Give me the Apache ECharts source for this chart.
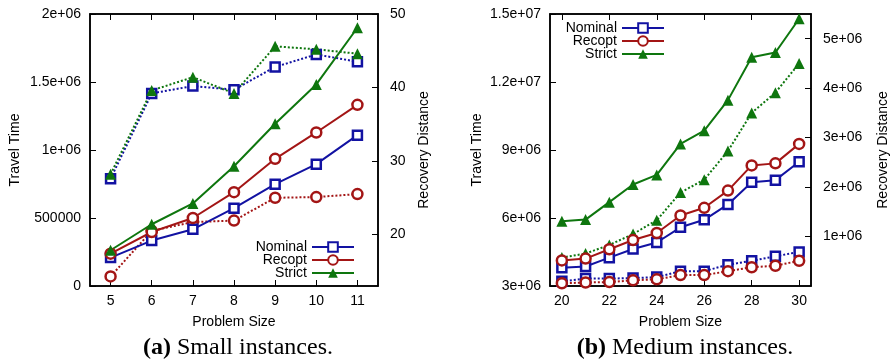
<!DOCTYPE html>
<html>
<head>
<meta charset="utf-8">
<script src="https://cdn.jsdelivr.net/npm/echarts@6/dist/echarts.min.js"></script>
<style>
  html, body { margin: 0; padding: 0; background: #fff; }
  #chart { width: 892px; height: 360px; }
</style>
</head>
<body>
<div id="chart"></div>
<script>
// panel (a) small instances
const sizeA = [5, 6, 7, 8, 9, 10, 11];
const travelNominalA = [209000, 334000, 417000, 572000, 749000, 896000, 1109000];
const travelRecoptA = [238000, 397000, 500000, 690000, 935000, 1129000, 1332000];
const travelStrictA = [263000, 454000, 607000, 881000, 1193000, 1482000, 1899000];
const recovNominalA = [27.6, 39.2, 40.2, 39.7, 42.8, 44.5, 43.5];
const recovRecoptA = [14.3, 20.5, 21.7, 21.9, 25.0, 25.1, 25.5];
const recovStrictA = [28.2, 39.6, 41.4, 39.2, 45.6, 45.2, 44.6];

// panel (b) medium instances
const sizeB = [20, 21, 22, 23, 24, 25, 26, 27, 28, 29, 30];
const travelNominalB = [3.81e6, 3.86e6, 4.25e6, 4.63e6, 4.92e6, 5.59e6, 5.92e6, 6.6e6, 7.58e6, 7.67e6, 8.48e6];
const travelRecoptB = [4.13e6, 4.21e6, 4.62e6, 5.03e6, 5.34e6, 6.11e6, 6.45e6, 7.21e6, 8.32e6, 8.41e6, 9.27e6];
const travelStrictB = [5.86e6, 5.93e6, 6.7e6, 7.48e6, 7.9e6, 9.27e6, 9.85e6, 11.2e6, 13.09e6, 13.3e6, 14.79e6];
const recovNominalB = [0.095e6, 0.15e6, 0.15e6, 0.16e6, 0.18e6, 0.30e6, 0.30e6, 0.43e6, 0.51e6, 0.60e6, 0.69e6];
const recovRecoptB = [0.055e6, 0.07e6, 0.08e6, 0.115e6, 0.135e6, 0.22e6, 0.22e6, 0.30e6, 0.38e6, 0.41e6, 0.51e6];
const recovStrictB = [0.575e6, 0.656e6, 0.83e6, 1.05e6, 1.33e6, 1.89e6, 2.15e6, 2.73e6, 3.5e6, 3.91e6, 4.5e6];

// tick labels
const xTicksA = [5, 6, 7, 8, 9, 10, 11];
const xTicksB = [20, 22, 24, 26, 28, 30];
const travelTicksA = { 0: "0", 500000: "500000", 1000000: "1e+06", 1500000: "1.5e+06", 2000000: "2e+06" };
const recovTicksA = [20, 30, 40, 50];
const travelTicksB = { 3000000: "3e+06", 6000000: "6e+06", 9000000: "9e+06", 12000000: "1.2e+07", 15000000: "1.5e+07" };
const recovTicksB = [1e6, 2e6, 3e6, 4e6, 5e6];
const recovLabelsB = ["1e+06", "2e+06", "3e+06", "4e+06", "5e+06"];

const BLUE = "#1212a2";
const RED = "#a31515";
const GREEN = "#0e760e";
const FONT = "Liberation Sans, Arial, sans-serif";

const marks = {
  Nominal: { color: BLUE, symbol: "rect", size: 9, fill: "#fff" },
  Recopt: { color: RED, symbol: "circle", size: 10, fill: "#fff" },
  Strict: { color: GREEN, symbol: "triangle", size: 11, fill: GREEN },
};

function pairs(xs, ys) {
  return xs.map((x, i) => [x, ys[i]]);
}

function line(name, seriesName, xs, ys, xi, yi, dotted) {
  const m = marks[name];
  return {
    name: seriesName,
    type: "line",
    xAxisIndex: xi,
    yAxisIndex: yi,
    data: pairs(xs, ys),
    symbol: m.symbol,
    symbolSize: m.size,
    showAllSymbol: true,
    animation: false,
    z: dotted ? 2 : 3,
    lineStyle: { color: m.color, width: 2, type: dotted ? [2, 2] : "solid" },
    itemStyle: { color: m.fill, borderColor: m.color, borderWidth: m.symbol === "triangle" ? 0 : 2.5 },
  };
}

const axisLabelStyle = { color: "#000", fontSize: 14, fontFamily: FONT };
const nameStyle = { color: "#000", fontSize: 14, fontFamily: FONT };

function xAxisBottom(gi, min, max, ticks) {
  return {
    type: "value", gridIndex: gi, min: min, max: max, position: "bottom",
    name: "Problem Size", nameLocation: "middle", nameGap: 29, nameTextStyle: nameStyle,
    axisLine: { lineStyle: { color: "#000", width: 1.5 } },
    axisTick: { inside: true, length: 6, customValues: ticks, lineStyle: { color: "#000" } },
    axisLabel: Object.assign({ margin: 8, customValues: ticks }, axisLabelStyle),
    splitLine: { show: false },
  };
}

function xAxisTop(gi, min, max, ticks) {
  return {
    type: "value", gridIndex: gi, min: min, max: max, position: "top",
    axisLine: { lineStyle: { color: "#000", width: 1.5 } },
    axisTick: { inside: true, length: 6, customValues: ticks, lineStyle: { color: "#000" } },
    axisLabel: { show: false },
    splitLine: { show: false },
  };
}

function legendAt(right, top) {
  return {
    data: ["Nominal", "Recopt", "Strict"],
    orient: "vertical", align: "right", right: right, top: top,
    itemWidth: 42, itemHeight: 12, itemGap: -1,
    textStyle: { color: "#000", fontSize: 14, fontFamily: FONT },
    selectedMode: false,
  };
}

function caption(text, x) {
  return {
    text: text,
    left: x, top: 331, textAlign: "center",
    textStyle: { fontFamily: "Liberation Serif, serif", fontSize: 24, fontWeight: "normal", color: "#000",
      rich: { b: { fontFamily: "Liberation Serif, serif", fontSize: 24, fontWeight: "bold", color: "#000" } } },
  };
}

const chart = echarts.init(document.getElementById("chart"));

chart.setOption({
  backgroundColor: "#fff",
  animation: false,
  title: [
    caption("{b|(a)} Small instances.", 233),
    caption("{b|(b)} Medium instances.", 680),
  ],
  grid: [
    { left: 90, width: 288, top: 14, height: 272, show: true, borderColor: "#000", borderWidth: 1.5 },
    { left: 550, width: 261, top: 14, height: 272, show: true, borderColor: "#000", borderWidth: 1.5 },
  ],
  legend: [legendAt(532, 235), legendAt(222, 16)],
  xAxis: [
    xAxisBottom(0, 4.5, 11.5, xTicksA),
    xAxisTop(0, 4.5, 11.5, xTicksA),
    xAxisBottom(1, 19.5, 30.5, xTicksB),
    xAxisTop(1, 19.5, 30.5, xTicksB),
  ],
  yAxis: [
    {
      type: "value", gridIndex: 0, min: 0, max: 2000000, interval: 500000, position: "left",
      name: "Travel Time", nameLocation: "middle", nameGap: 68, nameTextStyle: nameStyle,
      axisLine: { show: true, lineStyle: { color: "#000", width: 1.5 } },
      axisTick: { show: true, inside: true, length: 6, lineStyle: { color: "#000" } },
      axisLabel: Object.assign({ margin: 9, formatter: (v) => travelTicksA[v] }, axisLabelStyle),
      splitLine: { show: false },
    },
    {
      type: "value", gridIndex: 0, min: 13, max: 50, position: "right",
      name: "Recovery Distance", nameLocation: "middle", nameGap: 39, nameTextStyle: nameStyle,
      axisLine: { show: true, lineStyle: { color: "#000", width: 1.5 } },
      axisTick: { show: true, inside: true, length: 6, customValues: recovTicksA, lineStyle: { color: "#000" } },
      axisLabel: Object.assign({ margin: 12, customValues: recovTicksA }, axisLabelStyle),
      splitLine: { show: false },
    },
    {
      type: "value", gridIndex: 1, min: 3000000, max: 15000000, interval: 3000000, position: "left",
      name: "Travel Time", nameLocation: "middle", nameGap: 66, nameTextStyle: nameStyle,
      axisLine: { show: true, lineStyle: { color: "#000", width: 1.5 } },
      axisTick: { show: true, inside: true, length: 6, lineStyle: { color: "#000" } },
      axisLabel: Object.assign({ margin: 9, formatter: (v) => travelTicksB[v] }, axisLabelStyle),
      splitLine: { show: false },
    },
    {
      type: "value", gridIndex: 1, min: 0, max: 5500000, position: "right",
      name: "Recovery Distance", nameLocation: "middle", nameGap: 65, nameTextStyle: nameStyle,
      axisLine: { show: true, lineStyle: { color: "#000", width: 1.5 } },
      axisTick: { show: true, inside: true, length: 6, customValues: recovTicksB, lineStyle: { color: "#000" } },
      axisLabel: Object.assign({
        margin: 12, customValues: recovTicksB,
        formatter: (v) => recovLabelsB[recovTicksB.indexOf(v)],
      }, axisLabelStyle),
      splitLine: { show: false },
    },
  ],
  series: [
    line("Nominal", "Nominal RD a", sizeA, recovNominalA, 0, 1, true),
    line("Recopt", "Recopt RD a", sizeA, recovRecoptA, 0, 1, true),
    line("Strict", "Strict RD a", sizeA, recovStrictA, 0, 1, true),
    line("Nominal", "Nominal", sizeA, travelNominalA, 0, 0, false),
    line("Recopt", "Recopt", sizeA, travelRecoptA, 0, 0, false),
    line("Strict", "Strict", sizeA, travelStrictA, 0, 0, false),
    line("Nominal", "Nominal RD b", sizeB, recovNominalB, 2, 3, true),
    line("Recopt", "Recopt RD b", sizeB, recovRecoptB, 2, 3, true),
    line("Strict", "Strict RD b", sizeB, recovStrictB, 2, 3, true),
    line("Nominal", "Nominal", sizeB, travelNominalB, 2, 2, false),
    line("Recopt", "Recopt", sizeB, travelRecoptB, 2, 2, false),
    line("Strict", "Strict", sizeB, travelStrictB, 2, 2, false),
  ],
});
</script>
</body>
</html>
